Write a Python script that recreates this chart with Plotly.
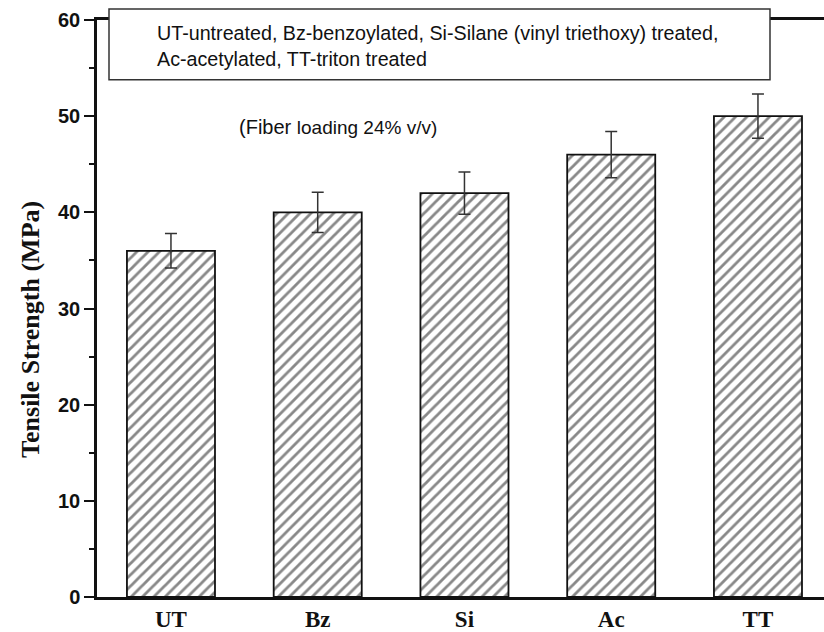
import plotly.graph_objects as go

categories = ["UT", "Bz", "Si", "Ac", "TT"]
strength = [36, 40, 42, 46, 50]
errors = [1.8, 2.1, 2.2, 2.4, 2.3]
y_ticks = [0, 10, 20, 30, 40, 50, 60]

fig = go.Figure()
fig.add_trace(go.Bar(
    x=categories, y=strength,
    marker=dict(color="white",
                line=dict(color="#111", width=1.8),
                pattern=dict(shape="/", fgcolor="#111", bgcolor="white",
                             size=8, solidity=0.35)),
    error_y=dict(type="data", array=errors, visible=True,
                 color="#333", thickness=1.5, width=6),
    width=0.6,
))

fig.update_layout(
    width=824, height=632,
    margin=dict(l=97, r=0, t=20, b=33),
    plot_bgcolor="white", paper_bgcolor="white",
    showlegend=False,
    xaxis=dict(range=[-0.504, 4.45], showline=True, linecolor="#111", linewidth=2.5,
               mirror=True, ticks="", showgrid=False,
               tickfont=dict(family="Liberation Serif", size=23, color="#111", weight="bold")),
    yaxis=dict(range=[0, 60], showline=True, linecolor="#111", linewidth=2.5,
               tickvals=y_ticks, ticks="outside", ticklen=10, tickwidth=2,
               tickcolor="#111", showgrid=False, zeroline=False,
               tickfont=dict(family="Liberation Sans", size=20, color="#111", weight="bold"),
               minor=dict(dtick=5, ticks="outside", ticklen=5, tickwidth=2, tickcolor="#111")),
)

# y-axis title (placed as in the original, slightly below centre)
fig.add_annotation(xref="paper", yref="paper", x=(31 - 97) / 727, y=(599 - 331) / 579,
                   xanchor="center", yanchor="middle", textangle=-90, showarrow=False,
                   text="Tensile Strength (MPa)",
                   font=dict(family="Liberation Serif", size=26, color="#111", weight="bold"))

fig.add_shape(type="rect", xref="paper", yref="paper",
              x0=(109 - 97) / 727, x1=(770 - 97) / 727,
              y0=(599 - 80) / 579, y1=(599 - 9) / 579,
              line=dict(color="#333", width=1.5), fillcolor="white", layer="above")

fig.add_annotation(xref="paper", yref="paper", x=(155 - 97) / 727, y=(599 - 46) / 579,
                   xanchor="left", yanchor="middle", align="left", showarrow=False,
                   text="UT-untreated, Bz-benzoylated, Si-Silane (vinyl triethoxy) treated,<br>Ac-acetylated, TT-triton treated",
                   font=dict(family="Liberation Sans", size=19.7, color="#111"))

fig.add_annotation(xref="paper", yref="paper", x=(237 - 97) / 727, y=(599 - 127) / 579,
                   xanchor="left", yanchor="middle", showarrow=False,
                   text="(Fiber <span style='font-size:19px'>loading 24% v/v)</span>",
                   font=dict(family="Liberation Sans", size=20, color="#111"))

fig.write_html("out.html")
